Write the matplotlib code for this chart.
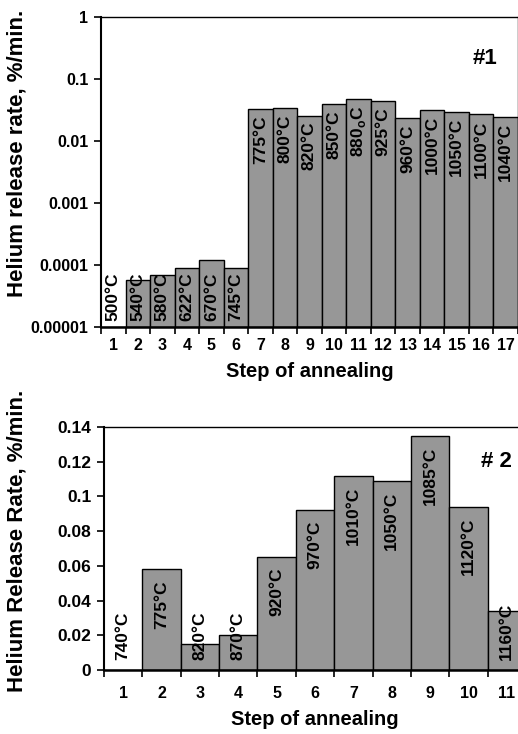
import numpy as np
import matplotlib
matplotlib.use("Agg")
import matplotlib.pyplot as plt

plt.rcParams['font.family'] = ['Liberation Sans', 'DejaVu Sans']
plt.rcParams['font.weight'] = 'bold'
plt.rcParams['mathtext.fontset'] = 'custom'
plt.rcParams['mathtext.rm'] = 'Liberation Sans:bold'
plt.rcParams['mathtext.bf'] = 'Liberation Sans:bold'

# sample #1, log scale
steps1 = list(range(1, 18))
rate1 = [1e-5, 5.7e-5, 6.9e-5, 9.1e-5, 1.2e-4, 9.1e-5, 0.0324, 0.0337, 0.0256,
         0.039, 0.047, 0.044, 0.0232, 0.0316, 0.0297, 0.0269, 0.0247]
temps1 = ['500°C', '540°C', '580°C', '622°C', '670°C', '745°C', '775°C', '800°C',
          '820°C', '850°C', r'880$_\mathregular{o}$C', '925°C', '960°C', '1000°C',
          '1050°C', '1100°C', '1040°C']

# sample #2, linear scale
steps2 = list(range(1, 12))
rate2 = [0.0, 0.058, 0.015, 0.020, 0.065, 0.092, 0.112, 0.109, 0.135, 0.094, 0.034]
temps2 = ['740°C', '775°C', '820°C', '870°C', '920°C', '970°C', '1010°C',
          '1050°C', '1085°C', '1120°C', '1160°C']

W, H = 518, 734
fig = plt.figure(figsize=(W / 100, H / 100), dpi=100)
bar_color = '#979797'
lab_fs = 12.5

# ---- top panel ----
ax1 = fig.add_axes([101 / W, 1 - 327 / H, 417 / W, 310 / H])
x1 = np.arange(len(steps1))
ax1.bar(x1, np.array(rate1) - 1e-5, bottom=1e-5, width=1.0, color=bar_color,
        edgecolor='black', linewidth=1.0)
ax1.set_yscale('log')
ax1.set_ylim(1e-5, 1)
ax1.set_xlim(-0.5, len(steps1) - 0.5)
ax1.set_yticks([1e-5, 1e-4, 1e-3, 1e-2, 1e-1, 1])
ax1.set_yticklabels(['0.00001', '0.0001', '0.001', '0.01', '0.1', '1'])
ax1.yaxis.set_minor_locator(matplotlib.ticker.NullLocator())
ax1.set_xticks(np.arange(-0.5, len(steps1), 1.0))
ax1.set_xticklabels([])
for i, s in enumerate(steps1):
    ax1.text(i, 6.6e-6, str(s), ha='center', va='top', fontsize=11.5,
             fontweight='bold')
for i, (v, t) in enumerate(zip(rate1, temps1)):
    if v < 1e-3:
        ax1.text(i, 1.25e-5, t, rotation=90, ha='center', va='bottom',
                 fontsize=lab_fs, fontweight='bold')
    else:
        ax1.text(i, v * 0.8, t, rotation=90, ha='center', va='top',
                 fontsize=lab_fs, fontweight='bold')
ax1.text(0.922, 0.865, '#1', transform=ax1.transAxes, ha='center', va='center',
         fontsize=16, fontweight='bold')
ax1.set_ylabel('Helium release rate, %/min.', fontsize=16, fontweight='bold')
ax1.yaxis.set_label_coords(-0.176, 0.56)
ax1.set_xlabel('Step of annealing', fontsize=14.5, fontweight='bold', labelpad=17)

# ---- bottom panel ----
ax2 = fig.add_axes([104 / W, 1 - 670 / H, 422 / W, 243 / H])
x2 = np.arange(len(steps2))
ax2.bar(x2, rate2, width=1.0, color=bar_color, edgecolor='black', linewidth=1.0)
ax2.set_ylim(0, 0.14)
ax2.set_xlim(-0.5, len(steps2) - 0.5)
ax2.set_yticks(np.arange(0, 0.141, 0.02))
ax2.set_yticklabels(['0', '0.02', '0.04', '0.06', '0.08', '0.1', '0.12', '0.14'])
ax2.set_xticks(np.arange(-0.5, len(steps2), 1.0))
ax2.set_xticklabels([])
for i, s in enumerate(steps2):
    ax2.text(i, -0.0095, str(s), ha='center', va='top', fontsize=11.5,
             fontweight='bold')
for i, (v, t) in enumerate(zip(rate2, temps2)):
    if v < 0.04:
        ax2.text(i, 0.0058, t, rotation=90, ha='center', va='bottom',
                 fontsize=lab_fs, fontweight='bold')
    else:
        ax2.text(i, v - 0.0062, t, rotation=90, ha='center', va='top',
                 fontsize=lab_fs, fontweight='bold')
ax2.text(0.929, 0.856, '# 2', transform=ax2.transAxes, ha='center', va='center',
         fontsize=16, fontweight='bold')
ax2.set_ylabel('Helium Release Rate, %/min.', fontsize=16, fontweight='bold')
ax2.yaxis.set_label_coords(-0.181, 0.53)
ax2.set_xlabel('Step of annealing', fontsize=14.5, fontweight='bold', labelpad=20)

for ax, fs in ((ax1, 11.5), (ax2, 12.5)):
    for sp in ax.spines.values():
        sp.set_linewidth(1.0)
    ax.spines['left'].set_linewidth(1.5)
    ax.spines['bottom'].set_linewidth(1.8)
    ax.tick_params(axis='y', direction='out', length=5, width=1.2,
                   labelsize=fs, pad=4)
    ax.tick_params(axis='x', direction='out', length=5, width=1.2)
    for lbl in ax.get_yticklabels():
        lbl.set_fontweight('bold')

fig.savefig('out.png', dpi=100)
